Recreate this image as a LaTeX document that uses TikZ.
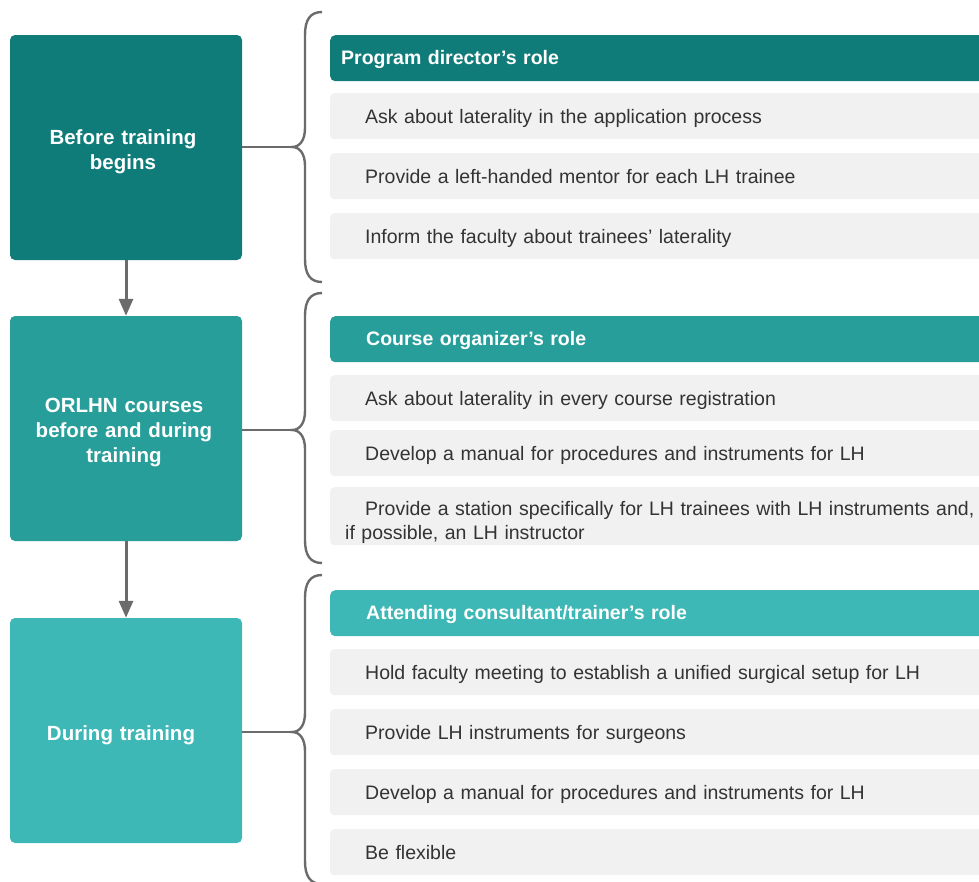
\documentclass[tikz,border=0pt]{standalone}
\usepackage{fontspec}
\setmainfont{Liberation Sans}
\usetikzlibrary{arrows.meta}

\definecolor{stageone}{HTML}{107C79}
\definecolor{stagetwo}{HTML}{279E9A}
\definecolor{stagethree}{HTML}{3EB8B6}
\definecolor{itemgray}{HTML}{F1F1F1}
\definecolor{linegray}{HTML}{6B6B6B}
\definecolor{textgray}{HTML}{333333}

\tikzset{
	stagebox/.style={rectangle, rounded corners=5pt, minimum width=232pt, minimum height=225pt},
	stagetext/.style={text width=220pt, align=center, text=white,
		font=\fontsize{20.5}{25}\selectfont\bfseries},
	rolehead/.style={rectangle, rounded corners=5pt, anchor=north west, minimum height=46pt,
		text width=640pt, inner xsep=11pt, align=left, text=white,
		text height=16pt, text depth=3pt, font=\fontsize{19.5}{24}\selectfont\bfseries},
	roleitem/.style={rectangle, rounded corners=4pt, fill=itemgray, anchor=north west,
		minimum height=46pt, text width=634pt, inner xsep=15pt, align=left, text=textgray,
		font=\fontsize{19.5}{24}\selectfont},
	oneline/.style={text height=18pt, text depth=3pt},
	bracket/.style={draw=linegray, line width=2.4pt},
	flow/.style={draw=linegray, line width=3pt, -{Triangle[width=14pt,length=17pt]}}
}

\begin{document}
\begin{tikzpicture}[x=1pt, y=-1pt]
			\useasboundingbox (0,0) rectangle (979,881);

			% stages on the left
			\node[stagebox, fill=stageone]		(before)	at (126,147.5)	{};
			\node[stagebox, fill=stagetwo]		(courses)	at (126,428.5)	{};
			\node[stagebox, fill=stagethree]	(during)	at (126,730.5)	{};
			\node[stagetext]	(beforetext)	at (123,151.5)	{Before training\\begins};
			\node[stagetext]	(coursestext)	at (124,432.5)	{ORLHN courses\\before and during\\training};
			\node[stagetext]	(duringtext)	at (121,735.5)	{During training};

			% arrows between stages
			\draw[flow]	(before)	--	(courses);
			\draw[flow]	(courses)	--	(during);

			% braces
			\draw[bracket]	(322,12) .. controls (310,12) and (305,20) .. (305,35) -- (305,128)
					.. controls (305,140) and (300,147) .. (292,147) coordinate (tipA)
					.. controls (300,147) and (305,154) .. (305,166) -- (305,259)
					.. controls (305,274) and (310,282) .. (322,282);
			\draw[bracket]	(322,293) .. controls (310,293) and (305,301) .. (305,316) -- (305,411)
					.. controls (305,423) and (300,430) .. (292,430) coordinate (tipB)
					.. controls (300,430) and (305,437) .. (305,449) -- (305,540)
					.. controls (305,555) and (310,563) .. (322,563);
			\draw[bracket]	(322,575) .. controls (310,575) and (305,583) .. (305,598) -- (305,713)
					.. controls (305,725) and (300,732) .. (292,732) coordinate (tipC)
					.. controls (300,732) and (305,739) .. (305,751) -- (305,861)
					.. controls (305,876) and (310,884) .. (322,884);
			\draw[bracket]	(before.east |- tipA)	--	(tipA);
			\draw[bracket]	(courses.east |- tipB)	--	(tipB);
			\draw[bracket]	(during.east |- tipC)	--	(tipC);

			% program director's role
			\node[rolehead, fill=stageone]	(headA)	at (330,35)	{Program director’s role};
			\node[roleitem, oneline]	(itemA1)	at (330,93)		{\hspace*{20pt}Ask about laterality in the application process};
			\node[roleitem, oneline]	(itemA2)	at (330,153)	{\hspace*{20pt}Provide a left-handed mentor for each LH trainee};
			\node[roleitem, oneline]	(itemA3)	at (330,213)	{\hspace*{20pt}Inform the faculty about trainees’ laterality};

			% course organizer's role
			\node[rolehead, fill=stagetwo]	(headB)	at (330,316)	{\hspace*{25pt}Course organizer’s role};
			\node[roleitem, oneline]	(itemB1)	at (330,375)	{\hspace*{20pt}Ask about laterality in every course registration};
			\node[roleitem, oneline]	(itemB2)	at (330,430)	{\hspace*{20pt}Develop a manual for procedures and instruments for LH};
			\node[roleitem, minimum height=58pt, inner ysep=0pt]	(itemB3)	at (330,487)
					{\rule{0pt}{27pt}\hspace*{20pt}Provide a station specifically for LH trainees with LH instruments and,\\if possible, an LH instructor};

			% attending consultant/trainer's role
			\node[rolehead, fill=stagethree]	(headC)	at (330,590)	{\hspace*{25pt}Attending consultant/trainer’s role};
			\node[roleitem, oneline]	(itemC1)	at (330,649)	{\hspace*{20pt}Hold faculty meeting to establish a unified surgical setup for LH};
			\node[roleitem, oneline]	(itemC2)	at (330,709)	{\hspace*{20pt}Provide LH instruments for surgeons};
			\node[roleitem, oneline]	(itemC3)	at (330,769)	{\hspace*{20pt}Develop a manual for procedures and instruments for LH};
			\node[roleitem, oneline]	(itemC4)	at (330,829)	{\hspace*{20pt}Be flexible};
\end{tikzpicture}
\end{document}
